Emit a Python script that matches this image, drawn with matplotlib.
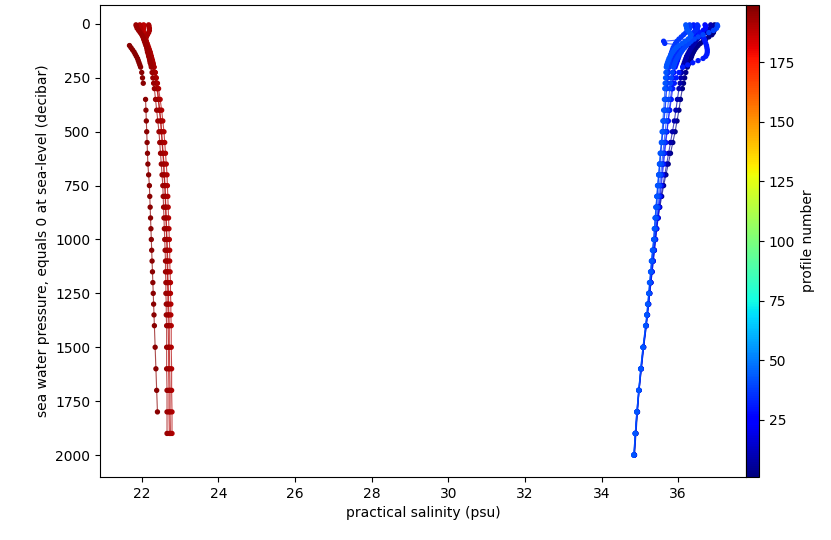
import matplotlib
matplotlib.use("Agg")
import matplotlib.pyplot as plt
import numpy as np

nan = np.nan

# pressure levels (decibar) shared by all profiles
pressure = [4, 10, 20, 30, 40, 50, 60, 70, 80, 90, 100, 110, 120, 130, 140, 150,
            160, 170, 180, 190, 200, 225, 250, 275, 300,
            350, 400, 450, 500, 550, 600, 650, 700, 750, 800, 850, 900, 950, 1000,
            1050, 1100, 1150, 1200, 1250, 1300, 1350, 1400,
            1500, 1600, 1700, 1800, 1900, 2000]

# profile numbers (colour) and practical salinity for each level
profile_numbers = [3, 9, 28, 31, 34, 37, 39, 42, 188, 190, 192, 194, 197]

sal_a = [36.95, 36.96, 36.96, 36.94, 36.92, 36.88, 36.80, 36.72, 36.65, 36.58, 36.52, 36.47, 36.43, 36.40, 36.37, 36.35,
         36.33, 36.30, 36.28, 36.26, 36.24, 36.20, 36.17, 36.14, 36.11,
         36.06, 36.02, 35.97, 35.92, 35.86, 35.80, 35.74, 35.68, 35.62, 35.57, 35.52, 35.48, 35.44, 35.41,
         35.38, 35.35, 35.32, 35.29, 35.26, 35.23, 35.20, 35.17,
         35.10, 35.04, 34.98, 34.94, 34.90, 34.86]
sal_b = [36.85, 36.86, 36.84, 36.80, 36.72, 36.62, 36.55, 36.50, 36.46, 36.42, 36.38, 36.34, 36.31, 36.28, 36.25, 36.22,
         36.20, 36.18, 36.16, 36.14, 36.12, 36.09, 36.07, 36.05, 36.02,
         35.98, 35.94, 35.90, 35.85, 35.80, 35.75, 35.70, 35.65, 35.60, 35.55, 35.51, 35.47, 35.43, 35.40,
         35.37, 35.34, 35.31, 35.28, 35.25, 35.22, 35.19, 35.16,
         35.09, 35.03, 34.98, 34.93, 34.89, 34.86]
sal_c = [36.70, 36.72, 36.71, 36.65, 36.55, 36.45, 36.38, 36.32, 36.26, 36.21, 36.17, 36.13, 36.10, 36.07, 36.04, 36.02,
         36.00, 35.98, 35.96, 35.94, 35.92, 35.89, 35.87, 35.85, 35.83,
         35.80, 35.77, 35.74, 35.71, 35.68, 35.65, 35.62, 35.59, 35.56, 35.53, 35.50, 35.47, 35.44, 35.41,
         35.38, 35.35, 35.32, 35.29, 35.26, 35.23, 35.20, 35.17,
         35.10, 35.04, 34.98, 34.93, 34.89, 34.85]
sal_d = [36.40, 36.42, 36.45, 36.50, 36.55, 36.60, 36.65, 36.68, 36.70, 36.72, 36.74, 36.75, 36.76, 36.76, 36.75, 36.72,
         36.65, 36.52, 36.38, 36.25, 36.12, 36.02, 35.95, 35.90, 35.86,
         35.82, 35.78, 35.74, 35.70, 35.66, 35.63, 35.60, 35.57, 35.54, 35.51, 35.48, 35.45, 35.42, 35.40,
         35.37, 35.34, 35.31, 35.28, 35.25, 35.22, 35.19, 35.16,
         35.09, 35.03, 34.97, 34.92, 34.88, 34.85]
sal_e = [36.50, 36.52, 36.50, 36.45, 36.40, 36.35, 36.32, 36.30, 35.62, 35.65, 36.20, 36.10, 36.02, 35.96, 35.92, 35.88,
         35.85, 35.83, 35.81, 35.79, 35.77, 35.75, 35.73, 35.71, 35.70,
         35.68, 35.66, 35.63, 35.60, 35.57, 35.54, 35.52, 35.50, 35.47, 35.45, 35.43, 35.41, 35.39, 35.37,
         35.34, 35.31, 35.29, 35.26, 35.24, 35.21, 35.19, 35.16,
         35.09, 35.03, 34.97, 34.93, 34.88, 34.85]
sal_f = [36.30, 36.31, 36.30, 36.26, 36.20, 36.14, 36.08, 36.02, 35.97, 35.93, 35.90, 35.87, 35.85, 35.83, 35.81, 35.80,
         35.78, 35.77, 35.76, 35.75, 35.74, 35.72, 35.71, 35.70, 35.69,
         35.67, 35.65, 35.62, 35.60, 35.57, 35.55, 35.52, 35.49, 35.47, 35.45, 35.42, 35.40, 35.38, 35.36,
         35.33, 35.31, 35.28, 35.26, 35.23, 35.21, 35.18, 35.15,
         35.08, 35.02, 34.97, 34.92, 34.88, 34.84]
sal_g = [37.02, 37.03, 37.00, 36.92, 36.80, 36.65, 36.52, 36.42, 36.34, 36.28, 36.22, 36.17, 36.12, 36.08, 36.04, 36.00,
         35.97, 35.94, 35.92, 35.90, 35.88, 35.85, 35.82, 35.80, 35.78,
         35.75, 35.72, 35.69, 35.66, 35.63, 35.60, 35.57, 35.54, 35.51, 35.48, 35.46, 35.43, 35.41, 35.39,
         35.36, 35.33, 35.30, 35.27, 35.25, 35.22, 35.19, 35.16,
         35.09, 35.03, 34.98, 34.93, 34.89, 34.85]
sal_h = [36.20, 36.21, 36.22, 36.25, 36.30, 36.34, 36.32, 36.26, 36.18, 36.10, 36.02, 35.95, 35.90, 35.86, 35.82, 35.79,
         35.76, 35.74, 35.72, 35.70, 35.69, 35.68, 35.67, 35.66, 35.65,
         35.64, 35.62, 35.60, 35.58, 35.56, 35.53, 35.51, 35.49, 35.46, 35.44, 35.42, 35.40, 35.38, 35.36,
         35.33, 35.30, 35.28, 35.25, 35.23, 35.20, 35.18, 35.15,
         35.08, 35.02, 34.97, 34.92, 34.88, 34.84]
sal_i = [22.05, 22.06, 22.05, 22.04, 22.05, 22.07, 22.08, 22.10, 22.12, 22.14, 22.16, 22.18, 22.20, 22.22, 22.23, 22.25,
         22.26, 22.28, 22.29, 22.30, 22.31, 22.34, 22.36, 22.38, 22.40,
         22.43, 22.46, 22.49, 22.51, 22.53, 22.55, 22.57, 22.58, 22.60, 22.61, 22.62, 22.63, 22.64, 22.65,
         22.66, 22.66, 22.67, 22.67, 22.68, 22.68, 22.69, 22.69,
         22.70, 22.70, 22.71, 22.71, 22.72, nan]
sal_j = [21.95, 21.96, 21.97, 21.98, 22.00, 22.02, 22.04, 22.06, 22.08, 22.10, 22.12, 22.14, 22.16, 22.18, 22.20, 22.22,
         22.24, 22.26, 22.28, 22.30, 22.32, 22.35, 22.38, 22.41, 22.44,
         22.48, 22.52, 22.55, 22.58, 22.60, 22.62, 22.64, 22.66, 22.67, 22.68, 22.69, 22.70, 22.71, 22.72,
         22.73, 22.73, 22.74, 22.75, 22.75, 22.76, 22.76, 22.77,
         22.77, 22.78, 22.78, 22.79, 22.79, nan]
sal_k = [22.18, 22.19, 22.20, 22.20, 22.18, 22.15, 22.12, 22.10, 22.11, 22.13, 22.15, 22.17, 22.19, 22.21, 22.23, 22.24,
         22.26, 22.27, 22.29, 22.30, 22.32, 22.35, 22.37, 22.39, 22.41,
         22.44, 22.47, 22.50, 22.52, 22.54, 22.56, 22.58, 22.59, 22.61, 22.62, 22.63, 22.64, 22.65, 22.66,
         22.67, 22.68, 22.68, 22.69, 22.70, 22.70, 22.71, 22.72,
         22.72, 22.73, 22.74, 22.74, 22.75, nan]
sal_l = [21.85, 21.86, 21.88, 21.92, 21.96, 22.00, 22.03, 22.05, 22.07, 22.09, 22.11, 22.13, 22.14, 22.15, 22.17, 22.18,
         22.20, 22.21, 22.22, 22.24, 22.25, 22.27, 22.29, 22.31, 22.33,
         22.36, 22.39, 22.42, 22.45, 22.47, 22.49, 22.51, 22.53, 22.55, 22.56, 22.57, 22.58, 22.59, 22.60,
         22.61, 22.62, 22.62, 22.63, 22.63, 22.64, 22.64, 22.65,
         22.65, 22.65, 22.66, 22.66, 22.66, nan]
sal_m = [nan, nan, nan, nan, nan, nan, nan, nan, nan, nan, 21.68, 21.72, 21.76, 21.80, 21.83, 21.86,
         21.89, 21.91, 21.93, 21.95, 21.97, 22.00, 22.02, 22.04, nan,
         22.10, 22.11, 22.12, 22.13, 22.14, 22.15, 22.16, 22.18, 22.20, 22.21, 22.22, 22.23, 22.24, 22.25,
         22.26, 22.27, 22.28, 22.29, 22.30, 22.31, 22.32, 22.33,
         22.35, 22.37, 22.39, 22.41, nan, nan]

salinity = [sal_a, sal_b, sal_c, sal_d, sal_e, sal_f, sal_g, sal_h,
            sal_i, sal_j, sal_k, sal_l, sal_m]

vmin, vmax = 1, 199

fig = plt.figure(figsize=(8.31, 5.40), dpi=100)
ax = fig.add_axes([0.1203, 0.1167, 0.7774, 0.874])
cax = fig.add_axes([0.8977, 0.1167, 0.0156, 0.874])

cmap = plt.get_cmap('jet')
norm = matplotlib.colors.Normalize(vmin=vmin, vmax=vmax)
p = np.array(pressure, dtype=float)

for num, sal in zip(profile_numbers, salinity):
    s = np.array(sal, dtype=float)
    ax.plot(s, p, '-', color=cmap(norm(num)), lw=0.8, alpha=0.7)
    sc = ax.scatter(s, p, c=np.full(len(s), num), cmap=cmap, norm=norm, s=8, zorder=3)

ax.set_xlim(20.91, 37.77)
ax.set_ylim(2102, -88)
ax.set_xlabel('practical salinity (psu)')
ax.set_ylabel('sea water pressure, equals 0 at sea-level (decibar)')

cb = fig.colorbar(sc, cax=cax)
cb.set_label('profile number')

fig.savefig('out.png', dpi=100)
